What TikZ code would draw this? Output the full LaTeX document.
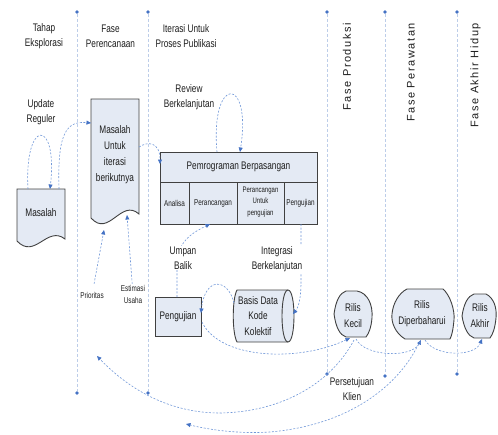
\documentclass[tikz,border=0pt]{standalone}
\usepackage{fontspec}
\setmainfont{Liberation Sans}[FakeStretch=0.75]
\newfontfamily\rotfont{Liberation Sans}[LetterSpace=14]
\usetikzlibrary{arrows.meta}
\definecolor{shapefill}{HTML}{E4EAF4}
\definecolor{shapeline}{HTML}{404040}
\definecolor{connblue}{HTML}{7097D8}
\definecolor{tipblue}{HTML}{4472C4}
\definecolor{vline}{HTML}{BCCDE9}
\definecolor{txt}{HTML}{1E1E1E}
\begin{document}
\begin{tikzpicture}[x=1pt,y=-1pt,
  shapebox/.style={draw=shapeline, fill=shapefill, line width=0.9pt},
  lbl/.style={text=txt, font=\fontsize{11}{15}\selectfont, align=center, inner sep=1pt},
  lbltall/.style={text=txt, font=\fontsize{11}{16}\selectfont, align=center, inner sep=1pt},
  smalltxt/.style={text=txt, font=\fontsize{8.5}{12.5}\selectfont, align=center, inner sep=1pt},
  tinytxt/.style={text=txt, font=\fontsize{8}{11.5}\selectfont, align=center, inner sep=0.5pt},
  connarrow/.style={draw=connblue, line width=0.6pt, dash pattern=on 2pt off 1.6pt,
     -{Triangle[length=4.5pt,width=4pt,color=tipblue,fill=tipblue]}},
  phase/.style={draw=vline, line width=0.8pt, dash pattern=on 3pt off 2pt},
  pdot/.style={circle, fill=tipblue, inner sep=0pt, minimum size=3.6pt},
  rothead/.style={text=txt, font=\rotfont\fontsize{11}{12}\selectfont, rotate=90, anchor=east, inner sep=0pt},
]
\useasboundingbox (0,0) rectangle (498,434);

% phase lines
\node[pdot] (p1t) at (77,12) {};  \node[pdot] (p1b) at (77,393) {};
\node[pdot] (p2t) at (148,12) {}; \node[pdot] (p2b) at (148,393) {};
\node[pdot] (p3t) at (327,12) {}; \node[pdot] (p3b) at (327,374) {};
\node[pdot] (p4t) at (385,12) {}; \node[pdot] (p4b) at (385,376) {};
\node[pdot] (p5t) at (457,12) {}; \node[pdot] (p5b) at (457,374) {};
\draw[phase] (p1t) -- (p1b);
\draw[phase] (p2t) -- (p2b);
\draw[phase] (p3t) -- (p3b);
\draw[phase] (p4t) -- (p4b);
\draw[phase] (p5t) -- (p5b);

% headers
\node[lbl] (h1) at (44,36) {Tahap\\Eksplorasi};
\node[lbl] (h2) at (110.5,36) {Fase\\Perencanaan};
\node[lbl] (h3) at (186,36) {Iterasi Untuk\\Proses Publikasi};
\node[rothead] (h4) at (347,23) {Fase Produksi};
\node[rothead] (h5) at (411,23) {Fase Perawatan};
\node[rothead] (h6) at (475.5,23) {Fase Akhir Hidup};

% shapes
\draw[shapebox] (17,189) -- (65,189) -- (65,239) .. controls (47,225) and (35,260) .. (17,241) -- cycle;
\node[lbl] (masalah) at (41,213) {Masalah};

\draw[shapebox] (91,99) -- (139,99) -- (139,214) .. controls (121,198) and (109,238) .. (91,218) -- cycle;
\node[lbltall] (mui) at (115,155) {Masalah\\Untuk\\iterasi\\berikutnya};

\draw[shapebox] (160,152) rectangle (317,224);
\draw[shapebox] (160,182) -- (317,182);
\draw[shapebox] (189,182) -- (189,224);
\draw[shapebox] (237,182) -- (237,224);
\draw[shapebox] (284,182) -- (284,224);
\node[lbl] (pp) at (238.5,167) {Pemrograman Berpasangan};
\node[smalltxt] (c1) at (174.5,203) {Analisa};
\node[smalltxt] (c2) at (213,203) {Perancangan};
\node[tinytxt] (c3) at (260.5,202) {Perancangan\\Untuk\\pengujian};
\node[smalltxt] (c4) at (300.5,203) {Pengujian};

\draw[shapebox] (155,297) rectangle (201,336);
\node[lbl] (peng) at (178,316.5) {Pengujian};

\draw[shapebox] (237,290) -- (288,290) .. controls (296,290) and (296,342) .. (288,342) -- (237,342)
   .. controls (232,333) and (232,299) .. (237,290) -- cycle;
\draw[draw=shapeline, line width=0.9pt] (288,290) .. controls (280,290) and (280,342) .. (288,342);
\node[lbl, font=\fontsize{11}{15.5}\selectfont] (bd) at (258,316) {Basis Data\\Kode\\Kolektif};

\draw[shapebox] (334,314) .. controls (336,300) and (340,293) .. (346,291) -- (357,291)
   .. controls (368,293) and (373,305) .. (372,318) .. controls (371,328) and (369,333) .. (366,337)
   -- (346,337) .. controls (340,335) and (336,328) .. (334,314) -- cycle;
\node[lbltall] (rk) at (353,315.5) {Rilis\\Kecil};

\draw[shapebox] (407,289) -- (443,289) .. controls (450,295) and (455,310) .. (454,320)
   .. controls (453,330) and (452,335) .. (450,339) -- (405,339)
   .. controls (395,333) and (391,322) .. (392,314) .. controls (393,303) and (399,293) .. (407,289) -- cycle;
\node[lbltall] (rd) at (422,313.5) {Rilis\\Diperbaharui};

\draw[shapebox] (462,316) .. controls (464,303) and (468,296) .. (474,294) -- (486,294)
   .. controls (494,298) and (497,308) .. (496,318) .. controls (495,328) and (493,334) .. (490,338)
   -- (474,338) .. controls (468,336) and (464,328) .. (462,316) -- cycle;
\node[lbltall] (ra) at (480,315.5) {Rilis\\Akhir};

% connector end points
\coordinate (a1s) at (28,189);  \coordinate (a1e) at (50,189);
\coordinate (a2s) at (59,189);  \coordinate (a2e) at (91,123);
\coordinate (a3s) at (139,147); \coordinate (a3e) at (160,164);
\coordinate (a4s) at (217,152); \coordinate (a4e) at (240,152);
\coordinate (a5s) at (177,297); \coordinate (a5e) at (210,224);
\coordinate (a6s) at (301,224); \coordinate (a6e) at (293,314);
\coordinate (a7s) at (234,303); \coordinate (a7e) at (201,313);
\coordinate (a8s) at (202,322); \coordinate (a8e) at (350,338);
\coordinate (a9s) at (354,340); \coordinate (a9e) at (97,356);
\coordinate (a10s) at (356,339); \coordinate (a10e) at (421,340);
\coordinate (a11s) at (425,340); \coordinate (a11e) at (482,339);
\coordinate (a12s) at (420,341); \coordinate (a12e) at (186,424);
\coordinate (a13e) at (104,230);
\coordinate (a14e) at (127,215);

% connectors
\draw[connarrow] (a1s) .. controls (24,118) and (58,118) .. (a1e);
\draw[connarrow] (a2s) .. controls (57,130) and (68,121) .. (a2e);
\draw[connarrow] (a3s) .. controls (148,141) and (160,142) .. (a3e);
\draw[connarrow] (a4s) .. controls (210,75) and (252,75) .. (a4e);
\draw[connarrow] (a5s) -- (177,264) .. controls (177,240) and (196,231) .. (a5e);
\draw[connarrow] (a6s) -- (301,282) .. controls (301,300) and (298,308) .. (a6e);
\draw[connarrow] (a7s) .. controls (228,278) and (205,276) .. (a7e);
\draw[connarrow] (a8s) .. controls (220,360) and (300,362) .. (a8e);
\draw[connarrow] (a9s) .. controls (330,385) and (280,412) .. (220,413) .. controls (160,413) and (120,380) .. (a9e);
\draw[connarrow] (a10s) .. controls (365,357) and (412,358) .. (a10e);
\draw[connarrow] (a11s) .. controls (435,357) and (475,357) .. (a11e);
\draw[connarrow] (a12s) .. controls (400,385) and (350,425) .. (270,432) .. controls (240,434) and (210,430) .. (a12e);

% labels
\node[lbl] (upd) at (41,112) {Update\\Reguler};
\node[lbl] (rev) at (189,97) {Review\\Berkelanjutan};
\node[lbl, fill=white] (umpan) at (183,258) {Umpan\\Balik};
\node[lbl, fill=white] (integ) at (277,259) {Integrasi\\Berkelanjutan};
\node[lbl] (pers) at (352,389) {Persetujuan\\Klien};
\node[smalltxt] (prio) at (92,295) {Prioritas};
\node[smalltxt] (est) at (133,294.5) {Estimasi\\Usaha};
\draw[connarrow, shorten <=7pt] (prio) -- (a13e);
\draw[connarrow] (est) -- (a14e);
\end{tikzpicture}
\end{document}
